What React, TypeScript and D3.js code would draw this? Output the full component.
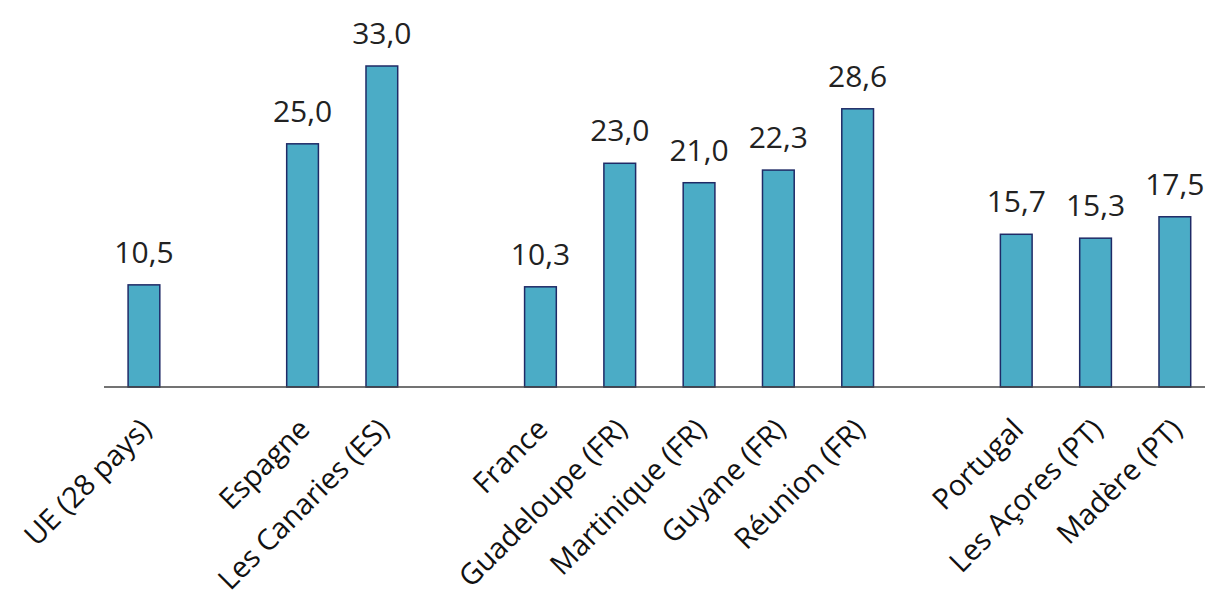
import React from "react";
import * as d3 from "d3";

const categories = [
  "UE (28 pays)", "", "Espagne", "Les Canaries (ES)", " ",
  "France", "Guadeloupe (FR)", "Martinique (FR)", "Guyane (FR)", "Réunion (FR)", "  ",
  "Portugal", "Les Açores (PT)", "Madère (PT)",
];
const values: (number | null)[] = [
  10.5, null, 25.0, 33.0, null,
  10.3, 23.0, 21.0, 22.3, 28.6, null,
  15.7, 15.3, 17.5,
];

const W = 1205, H = 598;
const baseY = 387;
const FONT = "'Open Sans', 'DejaVu Sans', sans-serif";

export default function App() {
  const x = d3.scaleBand<string>().domain(categories).range([104.3, 1214.5]).paddingInner(0.6).paddingOuter(0.3);
  const y = d3.scaleLinear().domain([0, 33]).range([baseY, 66]);
  const fmt = (v: number) => v.toFixed(1).replace(".", ",");
  return (
    <svg width={W} height={H} style={{ position: "absolute", left: 0, top: 0, background: "#fff" }}>
      {categories.map((c, i) => {
        const v = values[i];
        if (v == null) return null;
        const cx = (x(c) as number) + x.bandwidth() / 2;
        return (
          <g key={c}>
            <rect x={x(c)} y={y(v)} width={x.bandwidth()} height={baseY - y(v)}
              fill="#4BACC6" stroke="#1F2A66" strokeWidth={1.5} />
            <text x={cx} y={y(v) - 22} textAnchor="middle" fontFamily={FONT} fontSize={30} fill="#222">{fmt(v)}</text>
            <text transform={`translate(${cx + 9},${baseY + 44}) rotate(-45)`} textAnchor="end"
              fontFamily={FONT} fontSize={29} fill="#111">{c}</text>
          </g>
        );
      })}
      <line x1={104} x2={W} y1={baseY} y2={baseY} stroke="#444" strokeWidth={1.5} />
    </svg>
  );
}
